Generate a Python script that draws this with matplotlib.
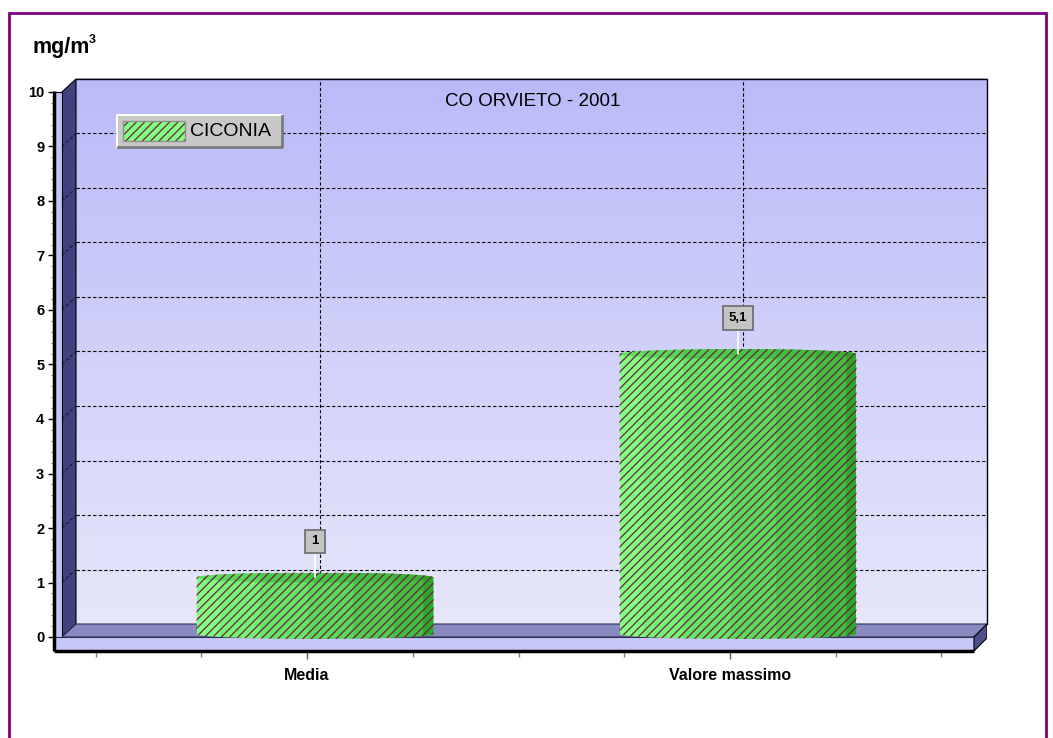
import numpy as np
import matplotlib
matplotlib.use('Agg')
import matplotlib.pyplot as plt
from matplotlib.patches import Rectangle, Polygon, Ellipse, PathPatch
from matplotlib.path import Path
from matplotlib.ticker import FixedLocator

plt.rcParams['font.family'] = ['Liberation Sans', 'DejaVu Sans']
plt.rcParams['hatch.linewidth'] = 0.9

# ---------------- data ----------------
categories = ['Media', 'Valore massimo']
values = [1.0, 5.1]
value_labels = ['1', '5,1']
series_name = 'CICONIA'
title = 'CO ORVIETO - 2001'
unit = 'mg/m'
unit_sup = '3'
y_ticks = list(range(0, 11))
y_minor = [round(0.2 * k, 1) for k in range(0, 51)]
x_minor = [-0.5, -0.25, 0.25, 0.5, 0.75, 1.25, 1.5]

# ---------------- geometry (pixels) ----------------
W, H = 1053, 738
fig = plt.figure(figsize=(W / 100, H / 100), dpi=100)
fig.patch.set_facecolor('white')

AX_L, AX_R, AX_B, AX_T = 54, 987, 651, 78
PX_PER_X = 423.0
PX_PER_Y = 54.5
CAT0_PX = 307
Y0_PX = 637
ax = fig.add_axes([AX_L / W, (H - AX_B) / H, (AX_R - AX_L) / W, (AX_B - AX_T) / H])
xlim = ((AX_L - CAT0_PX) / PX_PER_X, (AX_R - CAT0_PX) / PX_PER_X)
ylim = ((Y0_PX - AX_B) / PX_PER_Y, (Y0_PX - AX_T) / PX_PER_Y)
ax.patch.set_visible(False)
for s in ax.spines.values():
    s.set_visible(False)


def px_x(n):
    return n / PX_PER_X


def px_y(n):
    return n / PX_PER_Y


DX, DY = px_x(13), px_y(13)
DXL = px_x(14)
T = px_x(8)
XL = xlim[0]
XRF = xlim[1] - DX
YB = ylim[0]
YMAX = 10
bx0 = XL + T + DXL
bx1 = XRF + DX

# back wall gradient
top_c = np.array([186, 186, 249]) / 255
bot_c = np.array([231, 231, 251]) / 255
tt = np.linspace(0, 1, 256)[:, None]
grad = (bot_c[None, :] * (1 - tt) + top_c[None, :] * tt)[:, None, :]
ax.imshow(grad, extent=[bx0, bx1, DY, YMAX + DY], origin='lower', aspect='auto',
          interpolation='bilinear', zorder=0)

# back-wall grid
dash = (0, (3, 2))
for v in y_ticks[1:-1]:
    ax.plot([bx0, bx1], [v + DY, v + DY], color='black', lw=0.8, ls=dash, zorder=1)
for i in range(len(categories)):
    ax.plot([i + DX, i + DX], [DY, YMAX + DY], color='black', lw=0.8, ls=dash, zorder=1)
ax.plot([bx0, bx1, bx1], [YMAX + DY, YMAX + DY, DY], color='black', lw=1, zorder=1,
        clip_on=False)

# left wall
ax.add_patch(Polygon([(XL + T, 0), (XL + T, YMAX), (bx0, YMAX + DY), (bx0, DY)],
                     closed=True, fc='#41417F', ec='black', lw=0.8, zorder=2))
ax.add_patch(Rectangle((XL, YB), T, YMAX - YB, fc='#C4C4F6', ec='black', lw=0.8, zorder=2))
for v in y_ticks[1:-1]:
    ax.plot([XL + T, bx0], [v, v + DY], color='#15152a', lw=0.8, ls=dash, zorder=3)

# floor
ax.add_patch(Polygon([(XL + T, 0), (XRF, 0), (XRF + DX, DY), (bx0, DY)],
                     closed=True, fc='#8A8AC2', ec='#303050', lw=0.8, zorder=2))
ax.add_patch(Rectangle((XL, YB), XRF - XL, -YB, fc='#C8C8F8', ec='#303050', lw=0.8, zorder=2))
ax.add_patch(Polygon([(XRF, YB), (XRF, 0), (XRF + DX, DY), (XRF + DX, YB + DY)],
                     closed=True, fc='#4E4E8C', ec='black', lw=0.8, zorder=2))

# axis lines
ax.plot([XL, XL], [YB, YMAX + px_y(1)], color='black', lw=2.5, zorder=7, clip_on=False,
        solid_capstyle='butt')
ax.plot([XL, XRF], [YB, YB], color='black', lw=2.5, zorder=7, clip_on=False,
        solid_capstyle='butt')

# ---------------- bars (pseudo cylinders) ----------------
facet_edges = [0, 0.10, 0.27, 0.47, 0.66, 0.83, 0.955, 1.0]
facet_colors = ['#80FF80', '#74F374', '#66E666', '#5AD95A', '#4DCC4D', '#40BF40', '#2BAA2B']
top_colors = ['#60E060', '#56D856', '#4ACD4A', '#44C444', '#3FBD3F', '#38B538', '#28A528']
bar_w = px_x(237)
bar_off = px_x(8)
e = px_y(5)
yb = px_y(3)
hatch_color = '#702040'


def ellipse_path(xc, w, yc, eh, n=80):
    t = np.linspace(0, 2 * np.pi, n)
    verts = np.c_[xc + w / 2 * np.cos(t), yc + eh * np.sin(t)]
    return Path(verts, closed=True)


def silhouette(xc, w, ybase, ytop, eh, n=80):
    a = w / 2
    t = np.linspace(np.pi, 0, n)
    top = np.c_[xc + a * np.cos(t), ytop + eh * np.sin(t)]
    t2 = np.linspace(0, -np.pi, n)
    bot = np.c_[xc + a * np.cos(t2), ybase + eh * np.sin(t2)]
    verts = np.vstack([top, bot, top[:1]])
    return Path(verts, closed=True)


xs = np.arange(len(categories))
vals = np.array(values)
for i, (xc0, v) in enumerate(zip(xs, vals)):
    xc = xc0 + bar_off
    path = silhouette(xc, bar_w, yb, v + e, e)
    clip = PathPatch(path, transform=ax.transData, fc='none', ec='none')
    ax.add_patch(clip)
    tclip = PathPatch(ellipse_path(xc, bar_w, v + e, e), transform=ax.transData,
                      fc='none', ec='none')
    ax.add_patch(tclip)
    for k in range(len(facet_colors)):
        left = xc - bar_w / 2 + facet_edges[k] * bar_w
        wk = (facet_edges[k + 1] - facet_edges[k]) * bar_w
        bottom = yb - 2 * e
        bars = ax.bar([left], [v + 2 * e - bottom], width=wk, bottom=bottom, align='edge',
                      color=facet_colors[k], lw=0, zorder=4)
        for b in bars:
            b.set_clip_path(clip)
        tops = ax.bar([left], [v + 2 * e - bottom], width=wk, bottom=bottom, align='edge',
                      color=top_colors[k], lw=0, zorder=5)
        for b in tops:
            b.set_clip_path(tclip)
    ax.add_patch(PathPatch(path, fill=False, hatch='////', ec=hatch_color, lw=0, zorder=6))
    ax.annotate(value_labels[i], xy=(xc, v + e), xytext=(0, 36), textcoords='offset pixels',
                ha='center', va='center', fontsize=9.5, fontweight='bold', zorder=9,
                bbox=dict(boxstyle='square,pad=0.45', fc='#C4C4C4', ec='#6A6A6A', lw=1.2),
                arrowprops=dict(arrowstyle='-', color='white', lw=1.2, shrinkA=0, shrinkB=0))

# ---------------- ticks ----------------
ax.set_xlim(xlim)
ax.set_ylim(ylim)
ax.set_yticks(y_ticks)
ax.set_yticklabels([str(t) for t in y_ticks], fontweight='bold', fontsize=10.5)
ax.yaxis.set_minor_locator(FixedLocator(y_minor))
ax.set_xticks(xs)
ax.set_xticklabels(categories, fontweight='bold', fontsize=11.5)
ax.xaxis.set_minor_locator(FixedLocator(x_minor))
ax.tick_params(axis='y', which='major', direction='out', length=4, width=1, pad=3, color='black')
ax.tick_params(axis='y', which='minor', direction='out', length=2, width=0.6, color='#707070')
ax.tick_params(axis='x', which='major', direction='out', length=6, width=1, pad=6, color='#606060')
ax.tick_params(axis='x', which='minor', direction='out', length=4, width=1, color='#808080')

# ---------------- overlay (pixel coords) ----------------
ov = fig.add_axes([0, 0, 1, 1], zorder=10)
ov.set_xlim(0, W)
ov.set_ylim(H, 0)
ov.axis('off')
ov.patch.set_visible(False)

ov.add_patch(Rectangle((8.5, 12.5), 1037, 726, fill=False, ec='#800080', lw=2))

ov.text(32, 53, unit, fontsize=15.5, fontweight='bold', ha='left', va='baseline')
ov.text(89, 43, unit_sup, fontsize=9, fontweight='bold', ha='left', va='baseline')

ov.text(533, 101, title, fontsize=13.5, ha='center', va='center')

# legend box
LX, LY, LW, LH = 117, 115, 165, 32
ov.add_patch(Rectangle((LX, LY), LW, LH, fc='#C8C8C8', ec='none'))
ov.plot([LX, LX, LX + LW], [LY + LH, LY, LY], color='white', lw=1.5)
ov.plot([LX + 1, LX + LW, LX + LW], [LY + LH, LY + LH, LY + 1], color='#7A7A7A', lw=2)
ov.add_patch(Rectangle((123, 121), 62, 20, fc='#80FF80', ec='none'))
ov.add_patch(Rectangle((123, 121), 62, 20, fill=False, hatch='////', ec=hatch_color, lw=0))
ov.add_patch(Rectangle((123, 121), 62, 20, fill=False, ec='#909090', lw=1))
ov.text(190, 132, series_name, fontsize=14, ha='left', va='center')

fig.savefig('out.png', dpi=100)
